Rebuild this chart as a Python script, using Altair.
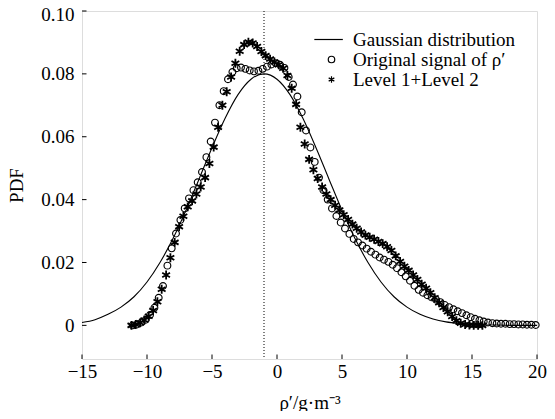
import altair as alt
import pandas as pd

FONT = "Liberation Serif"

# ---------------- data ----------------
gauss_x = list(range(-15, 21))
gauss_y = [0.0009, 0.0018, 0.0035, 0.0058, 0.0091, 0.0138, 0.0200, 0.0276, 0.0366, 0.0465,
           0.0565, 0.0658, 0.0734, 0.0783, 0.0800, 0.0783, 0.0734, 0.0658, 0.0565, 0.0465,
           0.0366, 0.0276, 0.0200, 0.0138, 0.0091, 0.0058, 0.0035, 0.0020, 0.0011, 0.0006,
           0.0003, 0.0001, 0.0001, 0.0000, 0.0000, 0.0000]

orig_x = [-11.10, -10.77, -10.43, -10.10, -9.77, -9.43, -9.10, -8.77, -8.43, -8.10,
          -7.77, -7.43, -7.10, -6.77, -6.43, -6.10, -5.77, -5.43, -5.10, -4.77,
          -4.43, -4.10, -3.77, -3.43, -3.10, -2.77, -2.43, -2.10, -1.77, -1.43,
          -1.10, -0.77, -0.43, -0.10, 0.23, 0.57, 0.90, 1.23, 1.57, 1.90,
          2.23, 2.57, 2.90, 3.23, 3.57, 3.90, 4.23, 4.57, 4.90, 5.23,
          5.57, 5.90, 6.23, 6.57, 6.90, 7.23, 7.57, 7.90, 8.23, 8.57,
          8.90, 9.23, 9.57, 9.90, 10.23, 10.57, 10.90, 11.23, 11.57, 11.90,
          12.23, 12.57, 12.90, 13.23, 13.57, 13.90, 14.23, 14.57, 14.90, 15.23,
          15.57, 15.90, 16.23, 16.57, 16.90, 17.23, 17.57, 17.90, 18.23, 18.57,
          18.90, 19.23, 19.57, 19.90]
orig_y = [0.0000, 0.0003, 0.0009, 0.0018, 0.0033, 0.0056, 0.0088, 0.0125, 0.0190, 0.0245,
          0.0292, 0.0335, 0.0372, 0.0404, 0.0430, 0.0455, 0.0488, 0.0535, 0.0585, 0.0645,
          0.0700, 0.0745, 0.0783, 0.0806, 0.0818, 0.0820, 0.0816, 0.0811, 0.0808, 0.0810,
          0.0816, 0.0823, 0.0830, 0.0834, 0.0829, 0.0819, 0.0790, 0.0766, 0.0728, 0.0678,
          0.0620, 0.0566, 0.0520, 0.0470, 0.0430, 0.0400, 0.0372, 0.0348, 0.0327, 0.0308,
          0.0291, 0.0275, 0.0264, 0.0254, 0.0244, 0.0234, 0.0225, 0.0216, 0.0209, 0.0202,
          0.0193, 0.0182, 0.0169, 0.0156, 0.0142, 0.0126, 0.0113, 0.0104, 0.0096, 0.0089,
          0.0082, 0.0074, 0.0065, 0.0058, 0.0051, 0.0045, 0.0039, 0.0032, 0.0026, 0.0021,
          0.0016, 0.0012, 0.0009, 0.0007, 0.0006, 0.0005, 0.0005, 0.0004, 0.0004, 0.0003,
          0.0003, 0.0002, 0.0002, 0.0001]

lvl_x = [-11.20, -10.87, -10.53, -10.20, -9.87, -9.53, -9.20, -8.87, -8.53, -8.20,
         -7.87, -7.53, -7.20, -6.87, -6.53, -6.20, -5.87, -5.53, -5.20, -4.87,
         -4.53, -4.20, -3.87, -3.53, -3.20, -2.87, -2.53, -2.20, -1.87, -1.53,
         -1.20, -0.87, -0.53, -0.20, 0.13, 0.47, 0.80, 1.13, 1.47, 1.80,
         2.13, 2.47, 2.80, 3.13, 3.47, 3.80, 4.13, 4.47, 4.80, 5.13,
         5.47, 5.80, 6.13, 6.47, 6.80, 7.13, 7.47, 7.80, 8.13, 8.47,
         8.80, 9.13, 9.47, 9.80, 10.13, 10.47, 10.80, 11.13, 11.47, 11.80,
         12.13, 12.47, 12.80, 13.13, 13.47, 13.80, 14.13, 14.47, 14.80, 15.13,
         15.47, 15.80]
lvl_y = [0.0000, 0.0003, 0.0008, 0.0017, 0.0029, 0.0047, 0.0075, 0.0115, 0.0160, 0.0215,
         0.0264, 0.0314, 0.0347, 0.0377, 0.0396, 0.0418, 0.0440, 0.0470, 0.0515, 0.0567,
         0.0630, 0.0700, 0.0743, 0.0790, 0.0834, 0.0872, 0.0893, 0.0901, 0.0898, 0.0887,
         0.0871, 0.0858, 0.0847, 0.0838, 0.0829, 0.0818, 0.0795, 0.0754, 0.0703, 0.0630,
         0.0577, 0.0528, 0.0495, 0.0467, 0.0440, 0.0418, 0.0400, 0.0382, 0.0367, 0.0352,
         0.0337, 0.0322, 0.0309, 0.0297, 0.0287, 0.0280, 0.0274, 0.0267, 0.0260, 0.0250,
         0.0238, 0.0221, 0.0203, 0.0188, 0.0175, 0.0160, 0.0146, 0.0131, 0.0118, 0.0104,
         0.0088, 0.0072, 0.0057, 0.0043, 0.0028, 0.0015, 0.0007, 0.0003, 0.0001, 0.0000,
         0.0000, 0.0000]

mean_line = [-1]
x_ticks = [-15, -10, -5, 0, 5, 10, 15, 20]
y_ticks = [0, 0.02, 0.04, 0.06, 0.08, 0.10]
series_names = ["Gaussian distribution", "Original signal of ρ′", "Level 1+Level 2"]

# ---------------- chart ----------------
W, H = 455, 348
AST = "M0,-1L0,1M-0.87,-0.5L0.87,0.5M-0.87,0.5L0.87,-0.5"
LINE = "M-5.3,0L3.5,0"

gauss_df = pd.DataFrame({"x": gauss_x, "y": gauss_y})
orig_df = pd.DataFrame({"x": orig_x, "y": orig_y, "s": series_names[1]})
lvl_df = pd.DataFrame({"x": lvl_x, "y": lvl_y, "s": series_names[2]})
vline_df = pd.DataFrame({"x": mean_line})
xt_df = pd.DataFrame({"x": x_ticks})
yt_df = pd.DataFrame({"y": y_ticks})

x_scale = alt.Scale(domain=[-15, 20], nice=False, zero=False)
y_scale = alt.Scale(domain=[-0.0107, 0.10], nice=False, zero=False)

x_axis = alt.Axis(values=x_ticks, ticks=False, tickSize=0, domain=False, grid=False,
                  labelFont=FONT, labelFontSize=19, labelColor="black", labelPadding=3,
                  labelFlush=False, labelOverlap=False,
                  title="ρ′/g·m⁻³", titleFont=FONT, titleFontSize=19,
                  titleFontWeight="normal", titleColor="black", titlePadding=12)
y_axis = alt.Axis(values=y_ticks, ticks=False, tickSize=0, domain=False, grid=False,
                  labelFont=FONT, labelFontSize=19, labelColor="black", labelPadding=8,
                  labelFlush=False, labelOverlap=False,
                  labelOffset={"condition": {"test": "datum.value >= 0.099", "value": 3.5},
                               "value": 0},
                  labelExpr="datum.value == 0 ? '0' : format(datum.value, '.2f')",
                  title="PDF", titleFont=FONT, titleFontSize=19,
                  titleFontWeight="normal", titleColor="black", titlePadding=14)

X = lambda f: alt.X(f, type="quantitative", scale=x_scale, axis=x_axis)
Y = lambda f: alt.Y(f, type="quantitative", scale=y_scale, axis=y_axis)

shape_scale = alt.Scale(domain=series_names, range=[LINE, "circle", AST])
legend = alt.Legend(title=None, orient="none", legendX=240, legendY=19, padding=0,
                    labelFont=FONT, labelFontSize=19, labelColor="black", labelOffset=12,
                    labelLimit=0,
                    symbolSize=42, symbolStrokeColor="black", symbolFillColor="transparent",
                    symbolStrokeWidth=1.2, rowPadding=-3.5)

gauss = alt.Chart(gauss_df).mark_line(color="black", strokeWidth=1.1,
                                      interpolate="monotone").encode(x=X("x"), y=Y("y"))

vline = alt.Chart(vline_df).mark_rule(color="black", strokeWidth=1,
                                      strokeDash=[1, 2]).encode(x=X("x"))

lvl = alt.Chart(lvl_df).mark_point(filled=False, color="black", size=80, strokeWidth=1.8,
                                   opacity=1).encode(
    x=X("x"), y=Y("y"), shape=alt.Shape("s:N", scale=shape_scale, legend=legend))

orig = alt.Chart(orig_df).mark_point(filled=False, color="black", size=46, strokeWidth=1.15,
                                     opacity=1).encode(
    x=X("x"), y=Y("y"), shape=alt.Shape("s:N", scale=shape_scale, legend=legend))

xticks = alt.Chart(xt_df).mark_rule(color="black", strokeWidth=1).encode(
    x=X("x"), y=alt.value(H), y2=alt.value(H - 4.5))
yticks = alt.Chart(yt_df).mark_rule(color="black", strokeWidth=1).encode(
    y=Y("y"), x=alt.value(0), x2=alt.value(4.5))

chart = alt.layer(vline, gauss, lvl, orig, xticks, yticks).properties(
    width=W, height=H,
    autosize=alt.AutoSizeParams(type="none"),
    padding={"left": 74, "top": 3, "right": 10, "bottom": 52},
).configure_view(stroke="black", strokeWidth=1.2).configure(background="white")

chart.save("out.html", embed_options={"renderer": "svg", "actions": False})
